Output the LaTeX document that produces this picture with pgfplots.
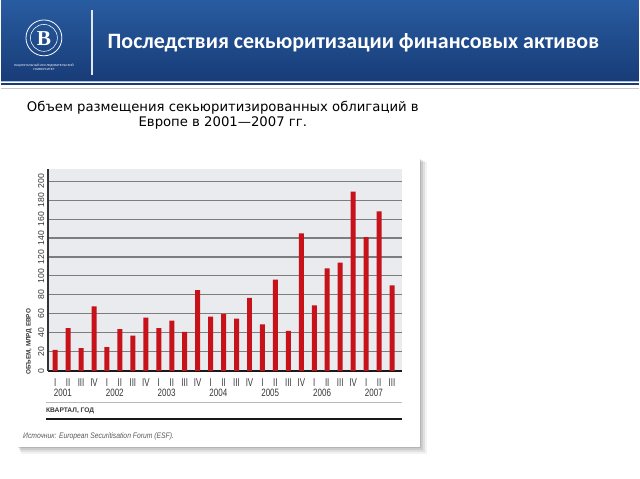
\documentclass[border=0pt]{standalone}
\usepackage{pgfplots}
\pgfplotsset{compat=1.18}
\usepackage{fontspec}
\setmainfont{Liberation Sans}
\newfontfamily\carlito{Carlito}
\newfontfamily\dejavu{DejaVu Sans}
\newfontfamily\serifb{Liberation Serif}
\definecolor{barred}{RGB}{200,18,26}
\definecolor{plotbg}{RGB}{233,235,239}
\definecolor{hdrtop}{RGB}{40,92,160}
\definecolor{hdrbot}{RGB}{24,60,120}
\definecolor{gridc}{RGB}{125,125,125}
\definecolor{txtc}{RGB}{55,55,55}
\begin{document}
\begin{tikzpicture}
\begin{scope}[x=0.75pt,y=-0.75pt]
\fill[white] (0,0) rectangle (640,480);
\shade[top color=hdrtop,bottom color=hdrbot] (0,0) rectangle (640,81);
\draw[white!60!hdrtop, line width=0.8pt] (0,82) -- (640,82);
\draw[hdrbot, line width=1.6pt] (0,84.6) -- (640,84.6);
\draw[gray!45, line width=0.7pt] (0,88.3) -- (640,88.3);
\draw[white!85!hdrtop, line width=1.3pt] (91,10) -- (91,75);
% logo
\draw[white, line width=0.6pt] (43,38) circle[radius=18];
\draw[white, line width=0.4pt] (43,38) circle[radius=13.5];
\node[text=white, font=\serifb\bfseries\fontsize{16}{16}\selectfont] at (43,38.5) {В};
\node[text=white, font=\fontsize{2.2}{2.6}\selectfont, align=center] at (43,67.5) {НАЦИОНАЛЬНЫЙ ИССЛЕДОВАТЕЛЬСКИЙ\\УНИВЕРСИТЕТ};
% title
\node[anchor=base west, text=white, inner sep=0pt, font=\carlito\bfseries\fontsize{16.5}{19}\selectfont] at (106.7,48.3) {Последствия секьюритизации финансовых активов};
% subtitle
\node[anchor=base, inner sep=0pt, font=\dejavu\fontsize{9.95}{12}\selectfont] at (222.5,111.7) {Объем размещения секьюритизированных облигаций в};
\node[anchor=base, inner sep=0pt, font=\dejavu\fontsize{9.95}{12}\selectfont] at (222.5,127.3) {Европе в 2001—2007 гг.};
% chart box with shadow
\fill[black, opacity=0.05] (20,163) rectangle (427,455);
\fill[black, opacity=0.07] (19,162) rectangle (425,453);
\fill[black, opacity=0.09] (18,161) rectangle (423,451);
\fill[black, opacity=0.11] (17,160) rectangle (421.5,449.5);
\fill[white] (15,158) rectangle (420,448);
% labels
\node[rotate=90, text=txtc, inner sep=0pt, font=\bfseries\fontsize{4.8}{5}\selectfont] at (28,343) {ОБЪЕМ, МЛРД ЕВРО};
\draw[gray!55, line width=0.75pt] (45,404) -- (402,404);
\draw[black!90, line width=1.6pt] (45,420) -- (402,420);
\node[anchor=west, inner sep=0pt, text=txtc, font=\bfseries\fontsize{5}{6}\selectfont] at (45,411.7) {КВАРТАЛ, ГОД};
\node[anchor=west, inner sep=0pt, xscale=0.85, text=black!65, font=\itshape\fontsize{6}{7}\selectfont] at (22,437.7) {Источник: European Securitisation Forum (ESF).};
\end{scope}
\begin{axis}[
  scale only axis, width=266.25pt, height=151.5pt,
  anchor=south west, at={(35.25pt,-279pt)},
  xmin=-0.56, xmax=26.75, ymin=0, ymax=212.3,
  axis background/.style={fill=plotbg},
  axis x line*=bottom, axis y line*=left,
  x axis line style={line width=1.6pt, black!90},
  y axis line style={line width=1.6pt, black!80},
  ybar, bar width=3.75pt,
  ytick={0,20,...,200}, ymajorgrids, grid style={gridc, line width=0.8pt},
  major tick length=0pt,
  /pgf/number format/assume math mode=true,
  yticklabel style={rotate=90, anchor=south, font=\fontsize{6.5}{7}\selectfont, text=txtc, inner sep=2.5pt},
  xtick={0,...,26},
  xticklabels={I,II,III,IV,I,II,III,IV,I,II,III,IV,I,II,III,IV,I,II,III,IV,I,II,III,IV,I,II,III},
  xticklabel style={font=\fontsize{8.5}{9}\selectfont, text=txtc, xscale=0.7, inner sep=1pt, yshift=-4.5pt},
  extra x ticks={0.6,4.6,8.6,12.6,16.6,20.6,24.6},
  extra x tick labels={2001,2002,2003,2004,2005,2006,2007},
  extra x tick style={major tick length=0pt, xticklabel style={yshift=-8pt, xscale=1.08, font=\fontsize{8}{9}\selectfont}},
]
\addplot[fill=barred, draw=none, bar shift=0pt] table {
x y
0 22
1 45
2 24
3 68
4 25
5 44
6 37
7 56
8 45
9 53
10 41
11 85
12 57
13 60
14 55
15 77
16 49
17 96
18 42
19 145
20 69
21 108
22 114
23 189
24 141
25 168
26 90
};
\end{axis}
\end{tikzpicture}
\end{document}
